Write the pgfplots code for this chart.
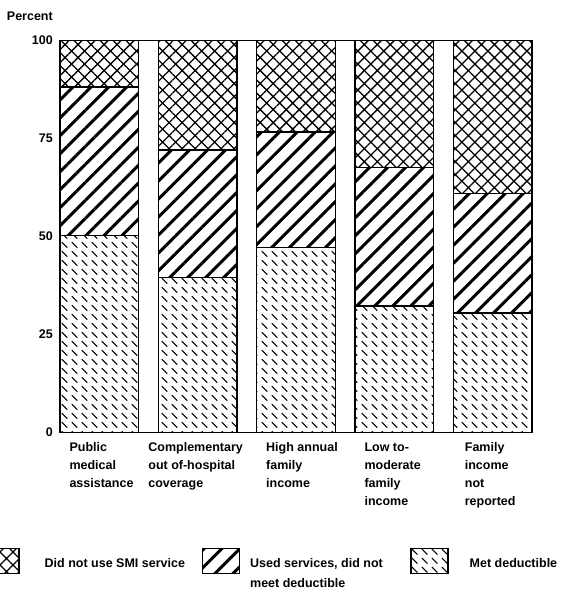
\documentclass[border=0pt]{standalone}
\usepackage{fontspec}
\setmainfont{Liberation Sans}
\usepackage{pgfplots}
\pgfplotsset{compat=1.18}
\usetikzlibrary{patterns.meta}

\pgfdeclarepattern{
  name=dashes, type=uncolored,
  bottom left={\pgfpointorigin}, top right={\pgfpoint{10pt}{8.5pt}},
  tile size={\pgfpoint{10pt}{8.5pt}},
  code={
    \pgfsetlinewidth{1.1pt}
    \pgfpathmoveto{\pgfpoint{2pt}{7.2pt}}\pgfpathlineto{\pgfpoint{8pt}{1.5pt}}
    \pgfusepath{stroke}
  }
}
\tikzset{
  pxh/.style={pattern={Hatch[angle=45, distance=9.2pt, line width=1.3pt]}},
  pdh/.style={pattern={Lines[angle=45, distance=12.7pt, line width=3pt]}},
  pds/.style={pattern=dashes},
}

\pgfplotstableread{
x met used notuse
0 50.2 37.9 11.9
1 39.5 32.6 27.9
2 47.2 29.4 23.4
3 32.3 35.3 32.4
4 30.5 30.5 39.0
}\datatable

\newcommand{\lf}{\bfseries\fontsize{12.5}{18}\selectfont}

\begin{document}
\begin{tikzpicture}
\useasboundingbox (-60pt,-158.5pt) rectangle (500pt,432.5pt);
\begin{axis}[
  at={(0pt,0pt)}, anchor=south west,
  scale only axis, width=472pt, height=392pt,
  xmin=-0.4, xmax=4.4, ymin=0, ymax=100,
  ybar stacked, bar width=78.7pt,
  axis line style={line width=1.6pt},
  ytick={0,25,50,75,100}, major tick length=0pt,
  xtick={0,1,2,3,4},
  xticklabels={
    {\begin{tabular}{@{}l@{}}Public\\medical\\assistance\end{tabular}},
    {\hspace*{-19.5pt}\begin{tabular}{@{}l@{}}Complementary\\out of-hospital\\coverage\end{tabular}},
    {\begin{tabular}{@{}l@{}}High annual\\family\\income\end{tabular}},
    {\begin{tabular}{@{}l@{}}Low to-\\moderate\\family\\income\end{tabular}},
    {\hspace*{2pt}\begin{tabular}{@{}l@{}}Family\\income\\not\\reported\end{tabular}}
  },
  /pgf/number format/assume math mode=true,
  tick label style={font=\lf},
  yticklabel style={inner sep=0pt, xshift=-7pt},
  xticklabel style={anchor=north west, inner sep=0pt, xshift=-30pt, yshift=-6pt},
  legend columns=3,
  legend style={at={(-0.1674,-0.2934)}, anchor=north west, draw=none, fill=none,
    inner sep=0pt, column sep=0pt, row sep=0pt, font=\bfseries\fontsize{12.5}{20}\selectfont,
    nodes={inner sep=0pt, anchor=base west}},
  legend cell align=left,
]
\addplot[forget plot, draw=black, line width=1.5pt, pds] table[x=x,y=met]{\datatable};
\addplot[forget plot, draw=black, line width=1.5pt, pdh] table[x=x,y=used]{\datatable};
\addplot[forget plot, draw=black, line width=1.5pt, pxh] table[x=x,y=notuse]{\datatable};

\addlegendimage{legend image code/.code={\draw[pxh, line width=1.5pt] (0pt,-12.5pt) rectangle (37pt,12.5pt);}}
\addlegendentry{\hspace*{25pt}\raisebox{-7pt}{\makebox[157pt][l]{Did not use SMI service}}}
\addlegendimage{legend image code/.code={\draw[pdh, line width=1.5pt] (0pt,-12.5pt) rectangle (37pt,12.5pt);}}
\addlegendentry{\hspace*{10pt}\raisebox{-7pt}{\makebox[160pt][l]{\begin{tabular}[t]{@{}l@{}}Used services, did not\\meet deductible\end{tabular}}}}
\addlegendimage{legend image code/.code={\draw[pds, line width=1.5pt] (0pt,-12.5pt) rectangle (37pt,12.5pt);}}
\addlegendentry{\hspace*{21pt}\raisebox{-7pt}{Met deductible}}
\end{axis}
\node[anchor=south east, inner sep=0pt, font=\lf] at (-7pt,412pt) {Percent};
\end{tikzpicture}
\end{document}
